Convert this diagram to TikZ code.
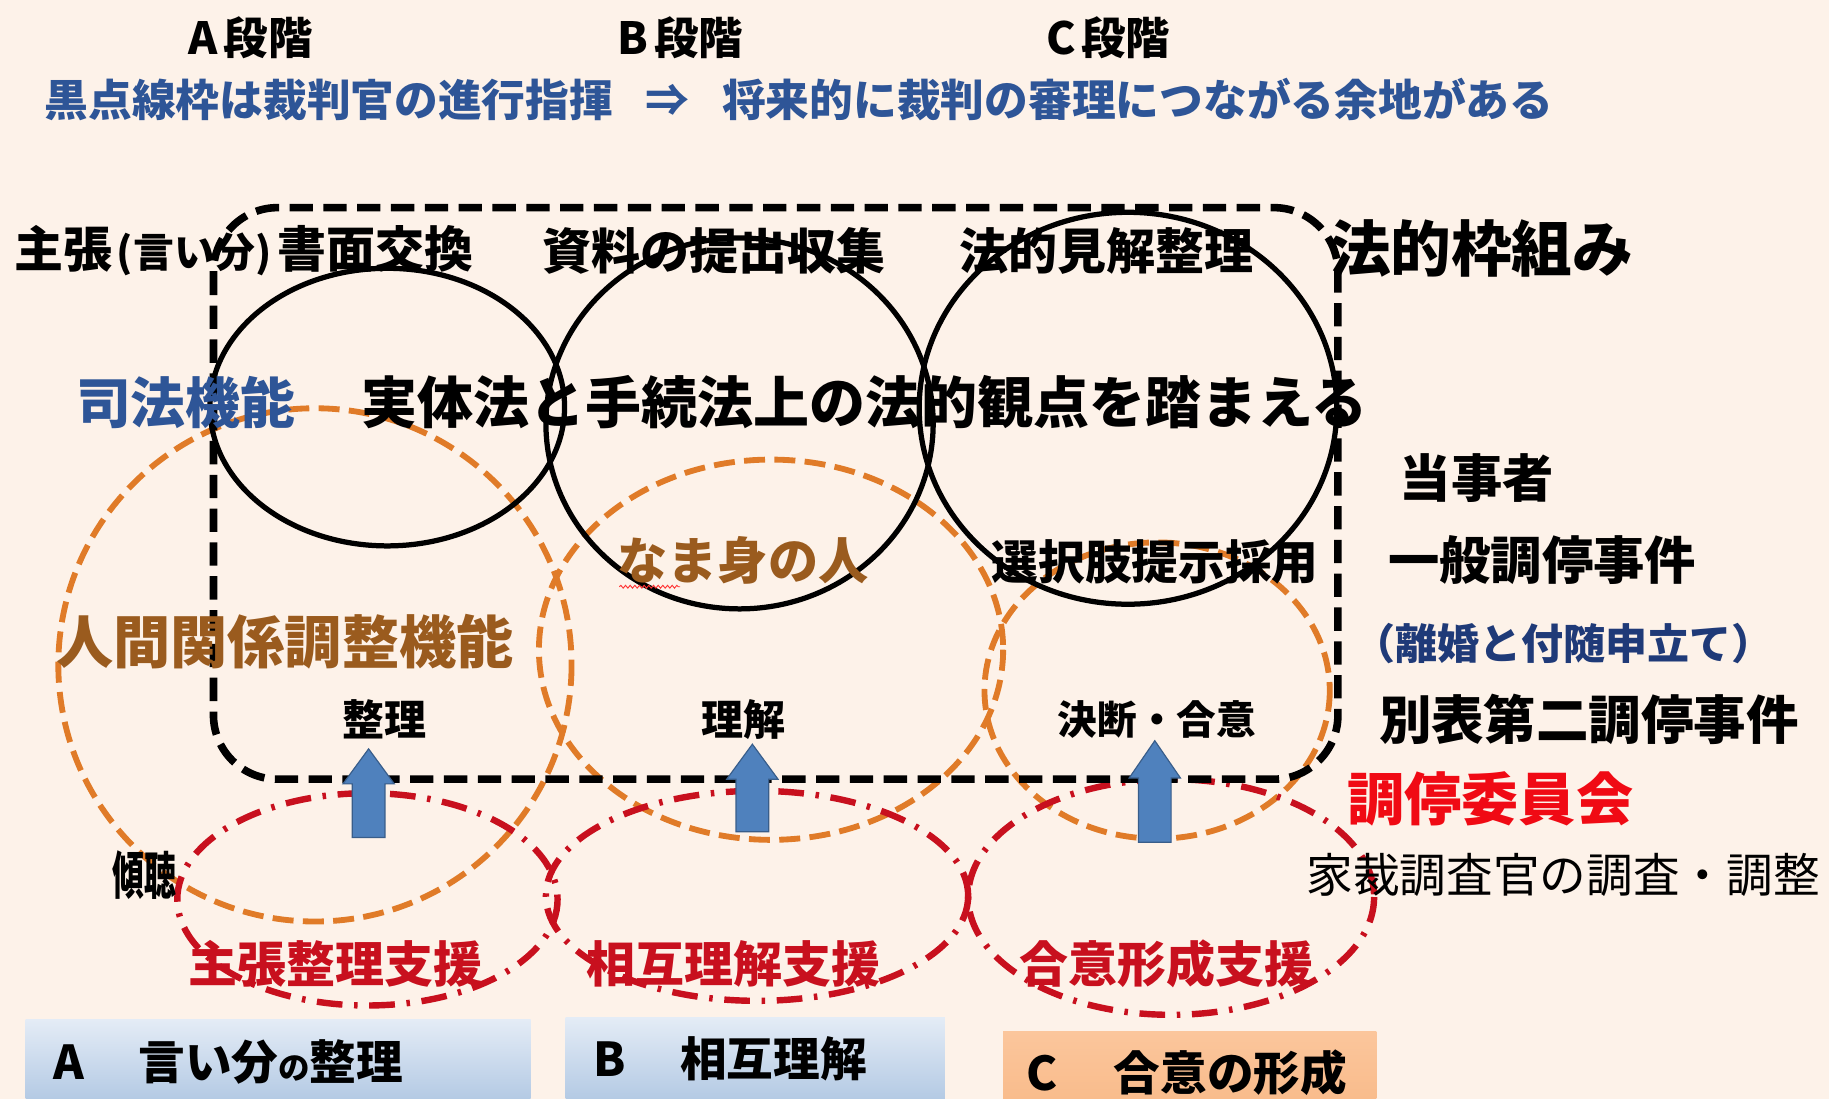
\documentclass[tikz,border=0pt]{standalone}
\usepackage{fontspec}
\setmainfont{Noto Sans CJK JP}
\usetikzlibrary{decorations.pathmorphing}
\definecolor{bgc}{HTML}{FDF2E9}
\definecolor{bluec}{HTML}{2E5597}
\definecolor{navyc}{HTML}{1F3A78}
\definecolor{brownc}{HTML}{9A5B1E}
\definecolor{orangec}{HTML}{E07B28}
\definecolor{redc}{HTML}{C8101E}
\definecolor{brightred}{HTML}{F00A14}
\definecolor{arrowc}{HTML}{4F81BD}
\definecolor{arrowl}{HTML}{385D8A}
\definecolor{boxbt}{HTML}{E4ECF6}
\definecolor{boxbb}{HTML}{B4CAE4}
\definecolor{boxot}{HTML}{FBC69C}
\definecolor{boxob}{HTML}{F9BC8C}
\newcommand\fsz[1]{\fontsize{#1}{#1}\selectfont}
\begin{document}
\begin{tikzpicture}[x=1pt,y=-1pt,
  every node/.style={inner sep=0pt, font=\bfseries},
  lw/.style={anchor=west},
  legalbox/.style={draw=black, line width=6.5, dash pattern=on 20 off 9, rounded corners=55},
  blkring/.style={draw=black, line width=4.5},
  orring/.style={draw=orangec, line width=5, dash pattern=on 18 off 8},
  redring/.style={draw=redc, line width=5.5, dash pattern=on 22 off 10 on 3 off 10},
  uparrow/.style={fill=arrowc, draw=arrowl, line width=1}]
\fill[bgc] (0,0) rectangle (1568,942);
\useasboundingbox (0,0) rectangle (1568,942);

% orange dashed circles
\draw[orring] (270,570) ellipse [x radius=220, y radius=220];
\draw[orring] (661,557) ellipse [x radius=199, y radius=163];
\draw[orring] (992,592) ellipse [x radius=148, y radius=127];

% black circles
\draw[blkring] (332,349) ellipse [x radius=152, y radius=119];
\draw[blkring] (634,363) ellipse [x radius=166, y radius=159];
\draw[blkring] (967,350) ellipse [x radius=179, y radius=168];

% red dash-dot ellipses
\draw[redring] (315,771) ellipse [x radius=163, y radius=91];
\draw[redring] (649,768) ellipse [x radius=181, y radius=90];
\draw[redring] (1004,769) ellipse [x radius=174, y radius=101];

% legal framework box
\draw[legalbox] (183,178) rectangle (1147,668);

% blue up arrows
\draw[uparrow] (316,642) -- (338,672) -- (330,672) -- (330,718) -- (302,718) -- (302,672) -- (294,672) -- cycle;
\draw[uparrow] (645,638) -- (667,668) -- (659,668) -- (659,713) -- (631,713) -- (631,668) -- (623,668) -- cycle;
\draw[uparrow] (990,635) -- (1012,667) -- (1004,667) -- (1004,722) -- (976,722) -- (976,667) -- (968,667) -- cycle;

% bottom boxes
\shade[top color=boxbt, bottom color=boxbb] (22,874) rectangle (455,942);
\shade[top color=boxbt, bottom color=boxbb] (485,872) rectangle (810,942);
\shade[top color=boxot, bottom color=boxob] (860,884) rectangle (1180,942);
\node[lw] (boxa) at (46,910) {\fsz{40}A\hspace{46pt}言い分{\fsz{27}の}整理};
\node[lw] (boxb) at (509,908) {\fsz{40}B\hspace{46pt}相互理解};
\node[lw] (boxc) at (880,920) {\fsz{40}C\hspace{48pt}合意の形成};

% stage headers
\node (ta) at (215,32) {\fsz{38}A\hspace{5pt}段階};
\node (tb) at (583,32) {\fsz{38}B\hspace{5pt}段階};
\node (tc) at (950,32) {\fsz{38}C\hspace{5pt}段階};
\node[lw, text=bluec] (note) at (38,85) {\fsz{37.5}黒点線枠は裁判官の進行指揮\hspace{28pt}⇒\hspace{28pt}将来的に裁判の審理につながる余地がある};

% row labels
\node[lw] (s1) at (12,215) {\fsz{42}主張\hspace{4pt}{\fsz{35}(言い分)}\hspace{5pt}書面交換};
\node[lw] (s2) at (465,215) {\fsz{42}資料の提出収集};
\node[lw] (s3) at (822,215) {\fsz{42}法的見解整理};
\node[lw] (s4) at (1140,213) {\fsz{52}法的枠組み};

\node[lw, text=bluec] (jf) at (65,345) {\fsz{47}司法機能};
\node[lw] (mainl) at (310,345) {\fsz{48}実体法と手続法上の法的観点を踏まえる};

\node[lw] (party) at (1200,410) {\fsz{44}当事者};
\node[lw] (gen) at (1190,480) {\fsz{44}一般調停事件};
\node[lw, text=navyc] (div) at (1160,552) {\fsz{36}（離婚と付随申立て）};
\node[lw] (sep) at (1182,617) {\fsz{45}別表第二調停事件};
\node[lw, text=brightred] (cmt) at (1155,685) {\fsz{49}調停委員会};
\node[lw, font=\mdseries] (inv) at (1120,750) {\fsz{40}家裁調査官の調査・調整};

\node[lw, text=brownc] (hr) at (48,550) {\fsz{49}人間関係調整機能};
\node[text=brownc] (nm) at (637,480) {\fsz{43}なま身の人};
\draw[red!80, line width=0.8, decorate, decoration={snake, amplitude=1.2, segment length=4}] (531,503) -- (583,503);
\node[lw] (opt) at (850,482) {\fsz{40}選択肢提示採用};

\node (k1) at (330,617) {\fsz{36}整理};
\node (k2) at (637,617) {\fsz{36}理解};
\node (k3) at (992,617) {\fsz{34}決断・合意};

\node (lis) at (124,750) {\scalebox{0.62}[1]{\fsz{44}傾聴}};
\node[text=redc] (sp1) at (288,826) {\fsz{42}主張整理支援};
\node[text=redc] (sp2) at (629,826) {\fsz{42}相互理解支援};
\node[text=redc] (sp3) at (1000,826) {\fsz{42}合意形成支援};
\end{tikzpicture}
\end{document}
